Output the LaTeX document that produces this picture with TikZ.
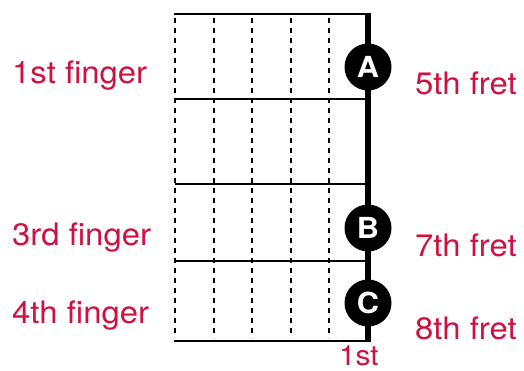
\documentclass[tikz,border=0pt]{standalone}
\usepackage{fontspec}
\setmainfont{TeX Gyre Heros}[FakeStretch=1.06]
\usetikzlibrary{positioning}
\usepackage{xcolor}
\definecolor{fingerRed}{RGB}{206, 17, 65}

\begin{document}
\begin{tikzpicture}
    [
        x=1pt, y=-1pt,
        redtext/.style={
            text=fingerRed, font=\fontsize{31}{34}\selectfont,
            anchor=base west, inner sep=0pt
        },
        fingerdot/.style={
            circle, fill=black, minimum size=47pt, inner sep=0pt,
            text=white, font=\bfseries\fontsize{29}{31}\selectfont
        },
        fret/.style={line width=2.3pt},
        stringline/.style={line width=2.6pt, dash pattern=on 5pt off 5pt}
    ]

\useasboundingbox (0,0) rectangle (524,370);

% Grid
\foreach \x in {175,214,252,291,329}
    \draw[stringline] (\x,18) -- (\x,338);
\foreach \y in {99,184,261}
    \draw[fret] (175,\y) -- (368,\y);
\draw[line width=2.8pt] (173.7,14) -- (368,14);
\draw[line width=2.8pt] (173.7,341) -- (368,341);

\coordinate (nut-top) at (368,12.6);
\coordinate (nut-bottom) at (368,342.4);
\draw[line width=5.5pt] (nut-top) -- (nut-bottom);

% Fingers
\node (a) [fingerdot] at (368,67) {A};
\node (b) [fingerdot] at (368,228) {B};
\node (c) [fingerdot] at (368,303) {C};

% Labels
\node (first) [redtext] at (12,83) {1st finger};
\node (third) [redtext] at (12,245) {3rd finger};
\node (fourth) [redtext] at (12,323) {4th finger};

\node (fret-five) [redtext] at (415,94) {5th fret};
\node (fret-seven) [redtext] at (415,256) {7th fret};
\node (fret-eight) [redtext] at (415,339) {8th fret};

\node (string-one) [redtext, font=\fontsize{28}{30}\selectfont] at (339,365) {1st};

\end{tikzpicture}
\end{document}
